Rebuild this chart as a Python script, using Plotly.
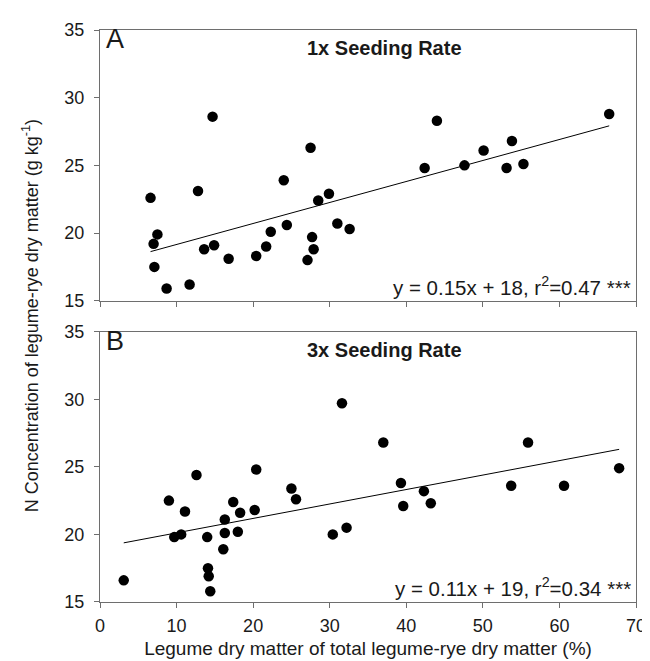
import numpy as np
import plotly.graph_objects as go

# Panel A: 1x seeding rate
a_x = [6.6, 7.0, 7.5, 7.1, 8.7, 11.7, 12.8, 13.6, 14.7, 14.9, 16.8, 20.4, 21.7, 22.3,
       24.0, 24.4, 27.5, 27.1, 27.7, 27.9, 28.5, 29.9, 31.0, 32.6, 42.4, 44.0, 47.6,
       50.1, 53.1, 53.8, 55.3, 66.5]
a_y = [22.6, 19.2, 19.9, 17.5, 15.9, 16.2, 23.1, 18.8, 28.6, 19.1, 18.1, 18.3, 19.0, 20.1,
       23.9, 20.6, 26.3, 18.0, 19.7, 18.8, 22.4, 22.9, 20.7, 20.3, 24.8, 28.3, 25.0,
       26.1, 24.8, 26.8, 25.1, 28.8]

# Panel B: 3x seeding rate
b_x = [3.1, 9.0, 9.7, 10.6, 11.1, 12.6, 14.0, 14.1, 14.2, 14.4, 16.1, 16.3, 16.3, 17.4,
       18.0, 18.3, 20.2, 20.4, 25.0, 25.6, 30.4, 31.6, 32.2, 37.0, 39.3, 39.6, 42.3,
       43.2, 53.7, 55.9, 60.6, 67.8]
b_y = [16.6, 22.5, 19.8, 20.0, 21.7, 24.4, 19.8, 17.5, 16.9, 15.8, 18.9, 20.1, 21.1, 22.4,
       20.2, 21.6, 21.8, 24.8, 23.4, 22.6, 20.0, 29.7, 20.5, 26.8, 23.8, 22.1, 23.2,
       22.3, 23.6, 26.8, 23.6, 24.9]

x_ticks = [0, 10, 20, 30, 40, 50, 60, 70]
y_ticks = [15, 20, 25, 30, 35]

panel_labels = ["A", "B"]
panel_titles = ["1x Seeding Rate", "3x Seeding Rate"]
equations = ["y = 0.15x + 18, r<sup>2</sup>=0.47 ***", "y = 0.11x + 19, r<sup>2</sup>=0.34 ***"]

FONT = "Liberation Sans, Arial, sans-serif"
AX_COLOR = "#6e6e6e"
TXT = "#1a1a1a"

fig = go.Figure()

for xs, ys, xa, ya in [(a_x, a_y, "x", "y"), (b_x, b_y, "x2", "y2")]:
    fig.add_trace(go.Scatter(x=xs, y=ys, mode="markers", xaxis=xa, yaxis=ya,
                             marker=dict(color="black", size=10.5), showlegend=False))
    k, c = np.polyfit(xs, ys, 1)
    lx = np.array([min(xs), max(xs)])
    fig.add_trace(go.Scatter(x=lx, y=k * lx + c, mode="lines", xaxis=xa, yaxis=ya,
                             line=dict(color="black", width=1), showlegend=False))

axis_common = dict(showline=True, linecolor=AX_COLOR, linewidth=1.2, mirror=True,
                   ticks="outside", ticklen=5, tickcolor=AX_COLOR, tickwidth=1,
                   showgrid=False, zeroline=False, ticklabelstandoff=6,
                   tickfont=dict(family=FONT, size=18, color=TXT))

fig.update_layout(
    width=650, height=661,
    margin=dict(l=92, r=14, t=20, b=67),
    plot_bgcolor="white", paper_bgcolor="white",
    font=dict(family=FONT, color=TXT),
    xaxis=dict(axis_common, range=[0, 70], tickvals=x_ticks, showticklabels=False,
               domain=[0, 1], anchor="y"),
    yaxis=dict(axis_common, range=[15, 35], tickvals=y_ticks, domain=[0.5267, 1],
               anchor="x"),
    xaxis2=dict(axis_common, range=[0, 70], tickvals=x_ticks, domain=[0, 1], anchor="y2",
                ticklabelstandoff=2,
                title=dict(text="Legume dry matter of total legume-rye dry matter (%)",
                           font=dict(family=FONT, size=19, color=TXT), standoff=6)),
    yaxis2=dict(axis_common, range=[15, 35], tickvals=y_ticks, domain=[0, 0.4727],
                anchor="x2"),
)

for i, (xr, yr) in enumerate([("x domain", "y domain"), ("x2 domain", "y2 domain")]):
    fig.add_annotation(text=panel_labels[i], xref=xr, yref=yr, x=0.008, y=1.03,
                       xanchor="left", yanchor="top", showarrow=False,
                       font=dict(family=FONT, size=27, color=TXT))
    fig.add_annotation(text="<b>" + panel_titles[i] + "</b>", xref=xr, yref=yr,
                       x=0.531, y=0.932, xanchor="center", yanchor="middle", showarrow=False,
                       font=dict(family=FONT, size=20, color=TXT))
    fig.add_annotation(text=equations[i], xref=xr, yref=yr, x=0.995, y=0.0,
                       xanchor="right", yanchor="bottom", showarrow=False,
                       font=dict(family=FONT, size=20.5, color=TXT))

fig.add_annotation(text="N Concentration of legume-rye dry matter (g kg<sup>-1</sup>)",
                   xref="paper", yref="paper", x=-0.13, y=0.5, textangle=-90,
                   xanchor="center", yanchor="middle", showarrow=False,
                   font=dict(family=FONT, size=18, color=TXT))

fig.write_html("out.html")
